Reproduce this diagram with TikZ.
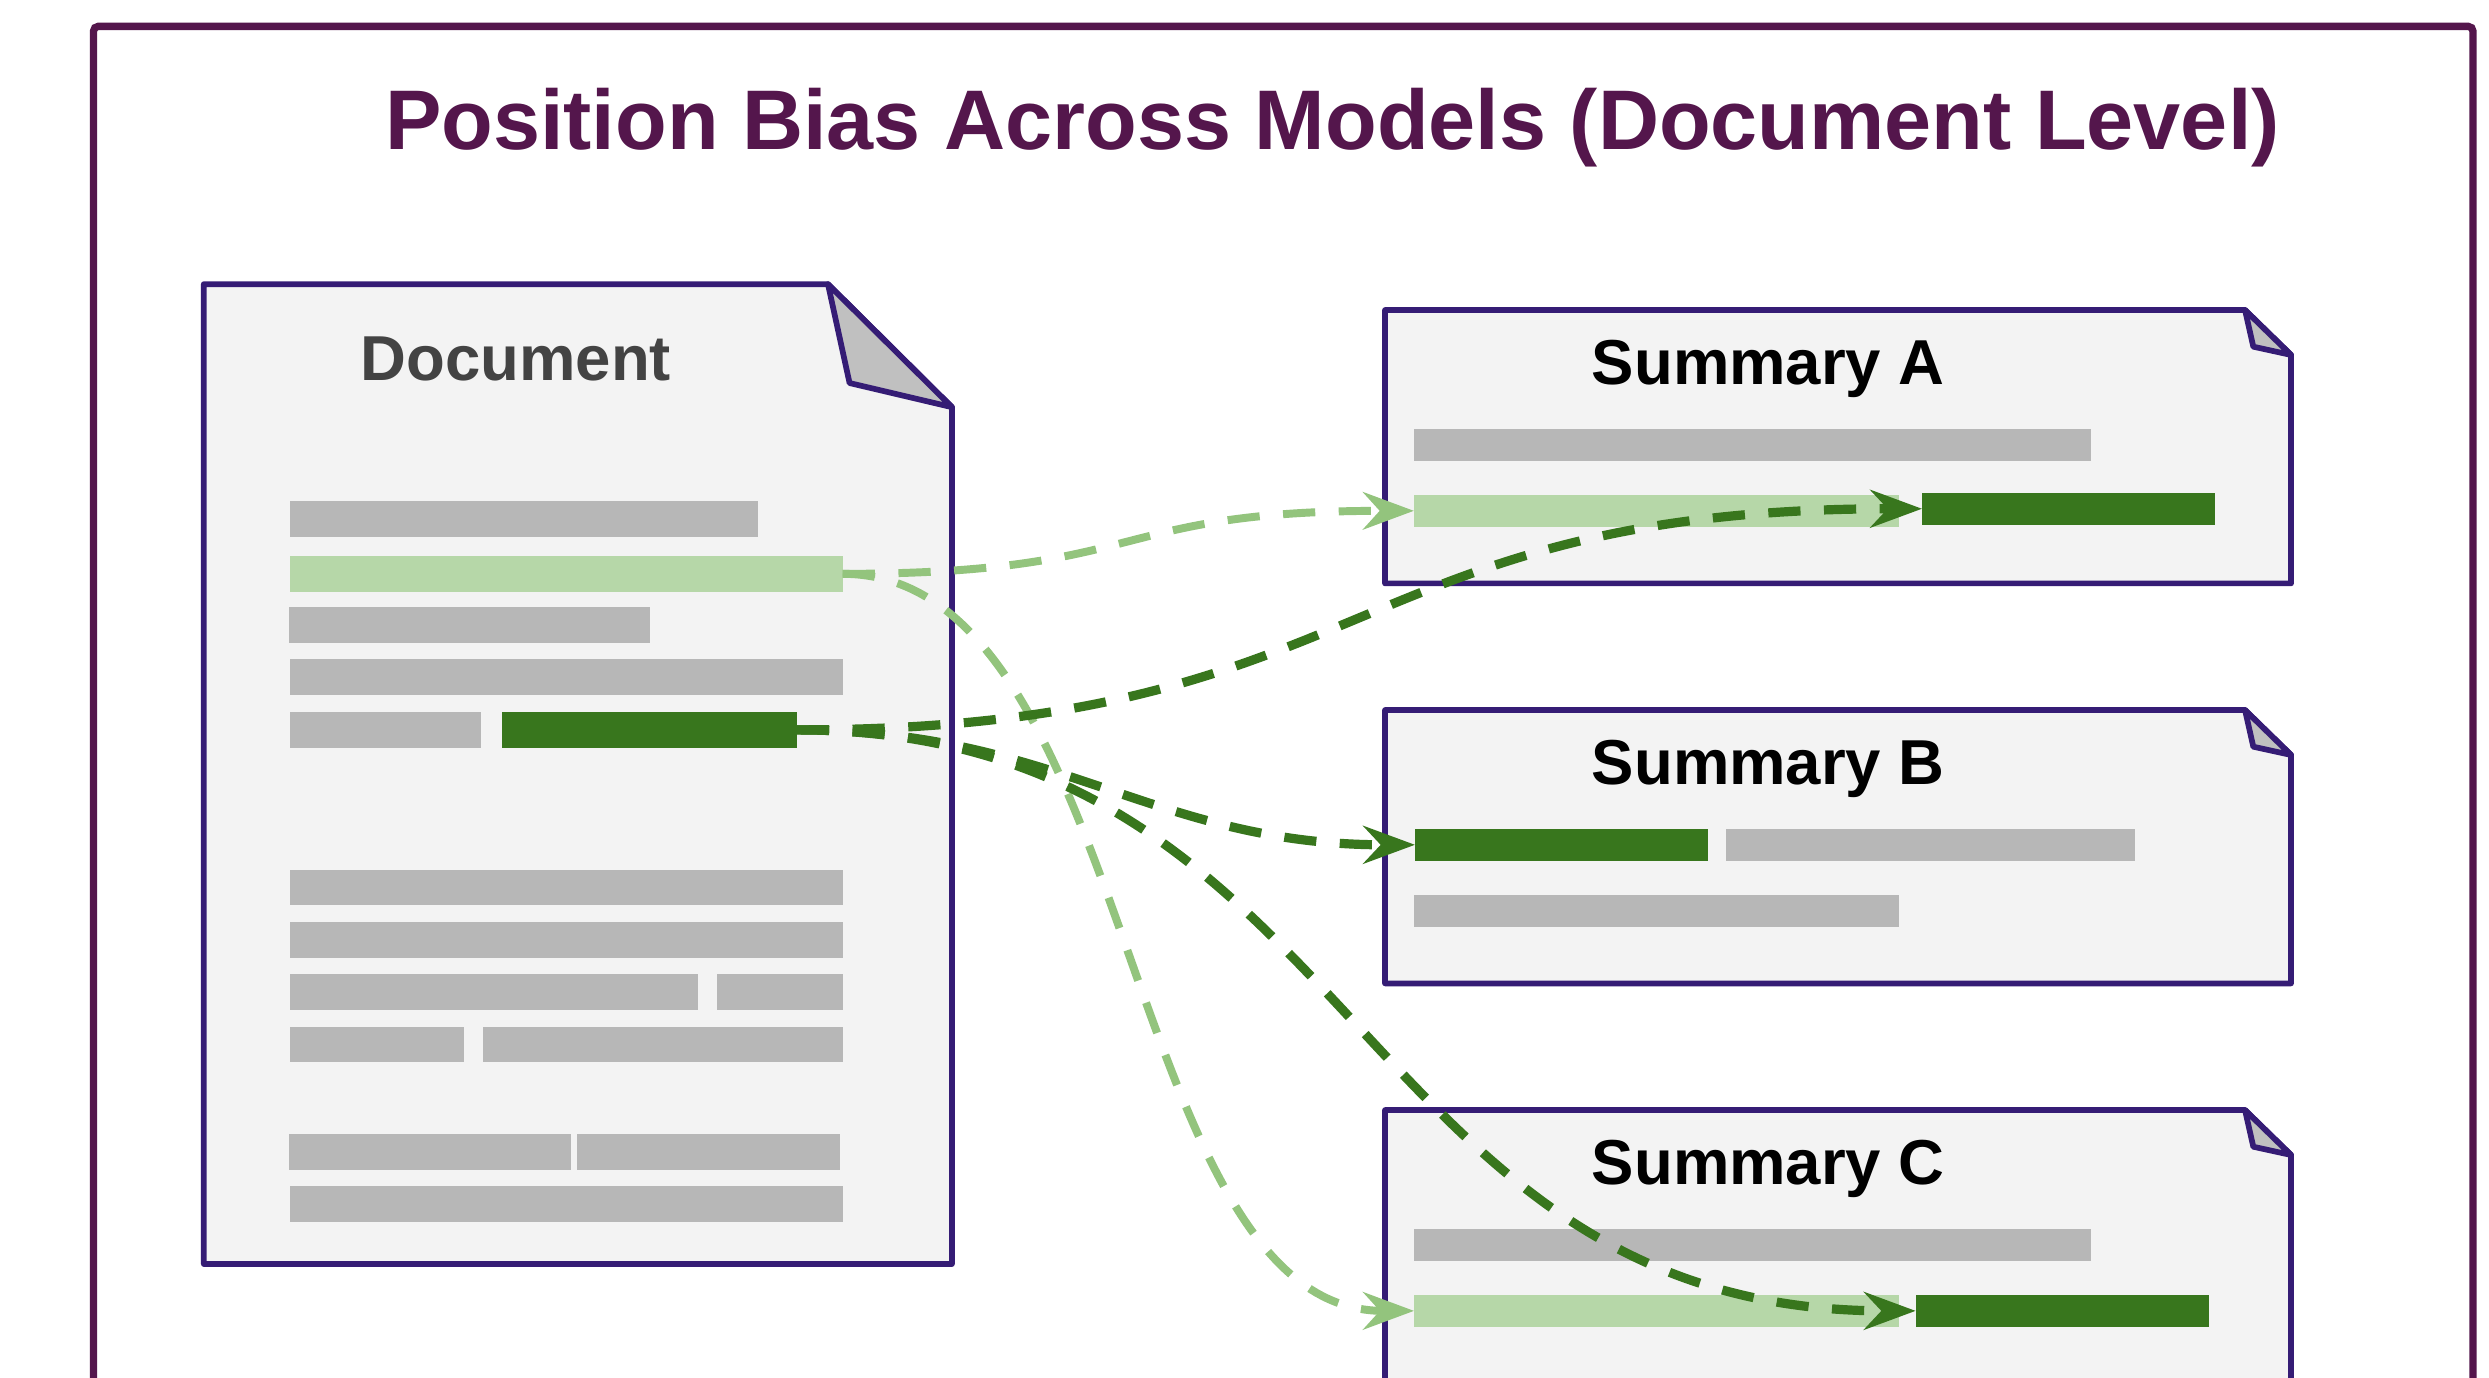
\documentclass[tikz,border=0pt]{standalone}
\usepackage{fontspec}
\setmainfont{Liberation Sans}
\usetikzlibrary{arrows.meta}
\definecolor{framec}{HTML}{54164C}
\definecolor{edgec}{HTML}{351C75}
\definecolor{paperc}{HTML}{F3F3F3}
\definecolor{flapc}{HTML}{C0C0C0}
\definecolor{barc}{HTML}{B7B7B7}
\definecolor{lightg}{HTML}{B6D7A8}
\definecolor{lightline}{HTML}{93C47D}
\definecolor{darkg}{HTML}{38761D}
\definecolor{doctext}{HTML}{434343}
\newcommand\mybar[6]{\node[#2, minimum width={#4-#3}, minimum height=#6] (#1) at (#3,#5) {};}
\begin{document}
\begin{tikzpicture}[x=1pt,y=-1pt,
  barbase/.style={rectangle, inner sep=0pt, outer sep=0pt, draw=none, anchor=west},
  graybar/.style={barbase, fill=barc},
  lightbar/.style={barbase, fill=lightg},
  darkbar/.style={barbase, fill=darkg},
  paper/.style={draw=edgec, line width=3.6pt, fill=paperc, line join=round},
  flap/.style={draw=edgec, line width=3.6pt, fill=flapc, line join=round},
  boxtitle/.style={anchor=base, inner sep=0pt, font=\fontsize{40}{48}\selectfont\bfseries},
  lightlink/.style={draw=lightline, line width=5pt, dash pattern=on 20.3pt off 14.8pt,
    -{Stealth[length=32pt, width=23.5pt, inset=10.5pt]}},
  darklink/.style={draw=darkg, line width=5.8pt, dash pattern=on 20.3pt off 14.8pt,
    -{Stealth[length=32.5pt, width=23.7pt, inset=10.9pt]}}
]
\useasboundingbox (0,0) rectangle (1568,867.5);
\clip (0,0) rectangle (1568,867.5);
\fill[white] (0,0) rectangle (1568,867.5);

% outer frame
\draw[framec, line width=4.6pt, rounded corners=3pt] (58.9,16.6) rectangle (1557.9,900);

% title
\node[anchor=base, inner sep=0pt, text=framec, font=\fontsize{53.3}{64}\selectfont\bfseries]
  (title) at (839.4,93.9) {Position Bias Across Models (Document Level)};

% document
\draw[paper] (128.4,179) -- (521.6,179) -- (599.7,256.5) -- (599.7,796.3) -- (128.4,796.3) -- cycle;
\draw[flap] (521.6,179) -- (535.2,241.3) -- (599.7,256.5) -- cycle;
\node[boxtitle, text=doctext] (doctitle) at (325,239.4) {Document};

\mybar{d1}{graybar}{182.8}{477.5}{326.8}{22.4}
\mybar{docL}{lightbar}{182.8}{530.9}{361.5}{22.4}
\mybar{d3}{graybar}{182.0}{409.5}{393.6}{22.4}
\mybar{d4}{graybar}{182.8}{530.9}{426.4}{22.4}
\mybar{d5}{graybar}{182.8}{303.0}{459.8}{22.4}
\mybar{docD}{darkbar}{316.2}{502.0}{459.8}{22.4}
\mybar{d6}{graybar}{182.8}{530.9}{559.2}{22.4}
\mybar{d7}{graybar}{182.8}{530.9}{592.1}{22.4}
\mybar{d8a}{graybar}{182.8}{439.5}{625.0}{22.4}
\mybar{d8b}{graybar}{451.5}{530.9}{625.0}{22.4}
\mybar{d9a}{graybar}{182.8}{292.0}{658.0}{22.4}
\mybar{d9b}{graybar}{304.5}{530.9}{658.0}{22.4}
\mybar{d10a}{graybar}{182.0}{359.8}{725.7}{22.4}
\mybar{d10b}{graybar}{363.5}{529.2}{725.7}{22.4}
\mybar{d11}{graybar}{182.7}{531.0}{758.5}{22.4}

% summary boxes
\foreach \dy in {0,252,504}{
  \begin{scope}[shift={(0,\dy)}]
    \draw[paper] (872.5,195.3) -- (1414.3,195.3) -- (1443.3,223.6) -- (1443.3,367.5) -- (872.5,367.5) -- cycle;
    \draw[flap] (1414.3,195.3) -- (1419.5,218.4) -- (1443.3,223.6) -- cycle;
  \end{scope}
}
\node[boxtitle, text=black] (tA) at (1114,242.1) {Summary A};
\node[boxtitle, text=black] (tB) at (1114,494.1) {Summary B};
\node[boxtitle, text=black] (tC) at (1114,746.0) {Summary C};

\mybar{a1}{graybar}{890.7}{1317.0}{280.2}{20}
\mybar{sAL}{lightbar}{890.7}{1196.5}{321.8}{20}
\mybar{sAD}{darkbar}{1210.8}{1395.6}{320.5}{20}

\mybar{sBD}{darkbar}{891.4}{1076.0}{532.2}{20}
\mybar{b1}{graybar}{1087.3}{1345.0}{532.2}{20}
\mybar{b2}{graybar}{890.6}{1196.2}{573.8}{20}

\mybar{c1}{graybar}{890.8}{1317.0}{784.2}{20}
\mybar{sCL}{lightbar}{890.8}{1196.5}{825.8}{20}
\mybar{sCD}{darkbar}{1206.8}{1391.3}{825.8}{20}

% connectors
\draw[lightlink] (docL.east) .. controls +(195,0) and +(-195,0) .. (sAL.west);
\draw[lightlink] (docL.east) .. controls +(185,0) and +(-185,0) .. (sCL.west);
\draw[darklink] (docD.east) .. controls +(365,0) and +(-365,0) .. (sAD.west);
\draw[darklink] (docD.east) .. controls +(165,0) and +(-165,0) .. (sBD.west);
\draw[darklink] (docD.east) .. controls +(355,0) and +(-355,0) .. (sCD.west);
\end{tikzpicture}
\end{document}
